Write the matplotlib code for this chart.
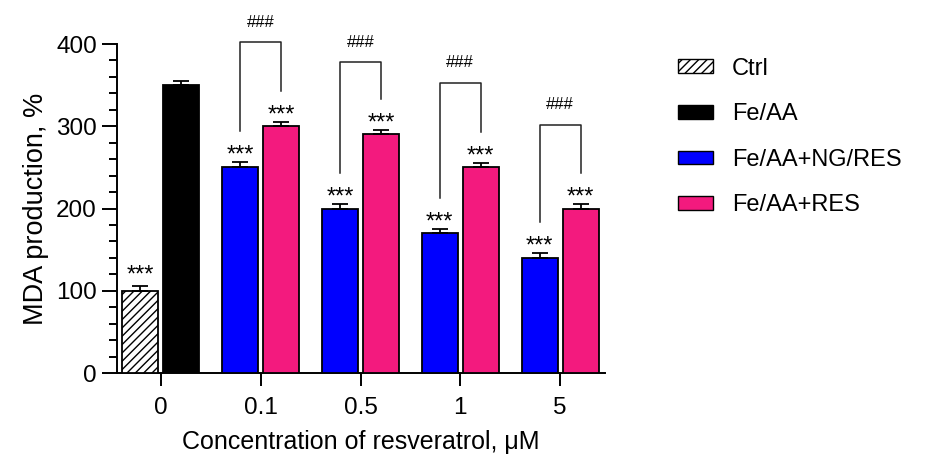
import numpy as np
import matplotlib
matplotlib.use('Agg')
import matplotlib.pyplot as plt
from matplotlib.patches import Patch
from matplotlib.ticker import MultipleLocator

plt.rcParams['font.family'] = ['Liberation Sans', 'DejaVu Sans']
plt.rcParams['hatch.linewidth'] = 1.0

# data
concs = ['0', '0.1', '0.5', '1', '5']
ctrl_val, ctrl_err = 100, 6
feaa_val, feaa_err = 350, 5
ngres_vals = [250, 200, 170, 140]
ngres_errs = [6, 5, 5, 6]
res_vals = [300, 290, 250, 200]
res_errs = [5, 5, 5, 5]
bracket_tops = [402, 378, 353, 302]

C_BLUE = '#0000FF'
C_PINK = '#F31A7E'
W = 0.36
OFF = 0.205

fig = plt.figure(figsize=(9.3, 4.61), dpi=100)
ax = fig.add_axes([117/930, 1-373/461, (605-117)/930, (373-44)/461])

bar_kw = dict(width=W, edgecolor='black', linewidth=1.3, zorder=3)
err_kw = dict(fmt='none', ecolor='black', elinewidth=1.3, capsize=6, capthick=1.3, zorder=4)

ax.bar(-OFF, ctrl_val, color='white', hatch='////', **bar_kw)
ax.bar(OFF, feaa_val, color='black', **bar_kw)
ax.errorbar([-OFF], [ctrl_val], yerr=[[0], [ctrl_err]], **err_kw)
ax.errorbar([OFF], [feaa_val], yerr=[[0], [feaa_err]], **err_kw)

xg = np.arange(1, len(concs))
ax.bar(xg - OFF, ngres_vals, color=C_BLUE, **bar_kw)
ax.bar(xg + OFF, res_vals, color=C_PINK, **bar_kw)
ax.errorbar(xg - OFF, ngres_vals, yerr=[np.zeros(4), ngres_errs], **err_kw)
ax.errorbar(xg + OFF, res_vals, yerr=[np.zeros(4), res_errs], **err_kw)

# significance stars
star_kw = dict(ha='center', va='baseline', fontsize=17, zorder=5)
ax.text(-OFF, ctrl_val + ctrl_err + 5, '***', **star_kw)
for x, v, e in zip(xg - OFF, ngres_vals, ngres_errs):
    ax.text(x, v + e + 1, '***', **star_kw)
for x, v, e in zip(xg + OFF, res_vals, res_errs):
    ax.text(x, v + e + 1, '***', **star_kw)

# brackets ###
for x, vb, eb, vp, ep, top in zip(xg, ngres_vals, ngres_errs, res_vals, res_errs, bracket_tops):
    ax.plot([x - OFF, x - OFF, x + OFF, x + OFF],
            [vb + eb + 38, top, top, vp + ep + 38],
            color='#222222', linewidth=1.1, clip_on=False, zorder=5)
    ax.text(x, top + 24, '###', ha='center', va='center', fontsize=12, clip_on=False)

ax.set_xlim(-0.44, 4.45)
ax.set_ylim(0, 400)
ax.set_xticks(range(len(concs)))
ax.set_xticklabels(concs)
ax.yaxis.set_major_locator(MultipleLocator(100))
ax.yaxis.set_minor_locator(MultipleLocator(20))
for s in ['top', 'right']:
    ax.spines[s].set_visible(False)
for s in ['left', 'bottom']:
    ax.spines[s].set_linewidth(1.4)
ax.tick_params(axis='both', labelsize=17.5, width=1.4)
ax.tick_params(axis='y', which='major', length=11, pad=3.5)
ax.tick_params(axis='y', which='minor', length=6, width=1.4)
ax.tick_params(axis='x', length=9, pad=8)
ax.set_xlabel('Concentration of resveratrol, \u03bcM', fontsize=18, labelpad=8)
ax.set_ylabel('MDA production, %', fontsize=19.5, labelpad=5)

handles = [Patch(facecolor='white', edgecolor='black', hatch='////', linewidth=1.0),
           Patch(facecolor='black', edgecolor='black', linewidth=1.0),
           Patch(facecolor=C_BLUE, edgecolor='black', linewidth=1.0),
           Patch(facecolor=C_PINK, edgecolor='black', linewidth=1.0)]
labels = ['Ctrl', 'Fe/AA', 'Fe/AA+NG/RES', 'Fe/AA+RES']
fig.legend(handles, labels, loc='center left', bbox_to_anchor=(678/930, 1-137/461),
           frameon=False, fontsize=17, handlelength=1.48, handleheight=0.5,
           labelspacing=1.0, handletextpad=0.8, borderpad=0, borderaxespad=0)

fig.savefig('out.png', dpi=100)
